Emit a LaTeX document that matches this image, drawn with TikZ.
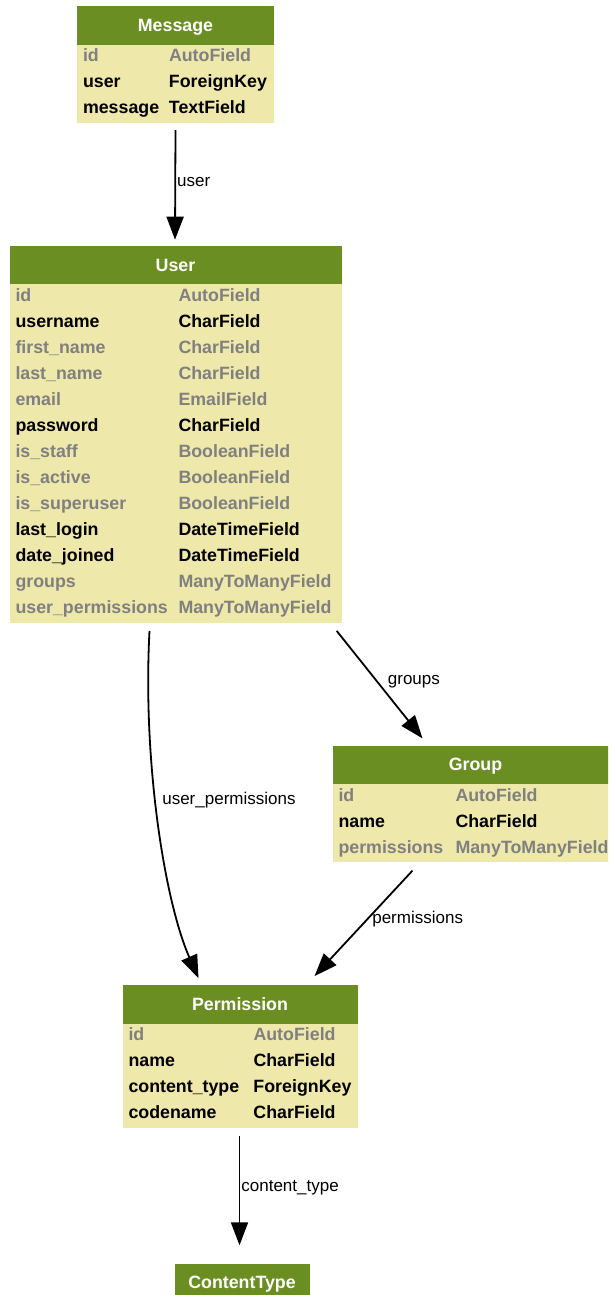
\documentclass[tikz,border=0pt]{standalone}
\usepackage{fontspec}
\setmainfont{Liberation Sans}
\usepackage{xcolor}
\usepackage{array}
\usepackage{tikz}
\usetikzlibrary{positioning,shapes.multipart,arrows.meta}

\definecolor{hdrgreen}{HTML}{6B8E23}
\definecolor{bodyyellow}{HTML}{EEE8AA}
\definecolor{fieldgrey}{HTML}{808080}

\newcommand{\rowstrut}{\rule[-9pt]{0pt}{26pt}}
\newcommand{\hdr}[1]{\rule[-13pt]{0pt}{38pt}\textcolor{white}{#1}}
\newcommand{\greyrow}[2]{\textcolor{fieldgrey}{#1} & \textcolor{fieldgrey}{#2}}
\newcommand{\fields}[3]{\begin{tabular}{@{\hspace{6pt}}>{\rowstrut}p{#1}@{}>{\rowstrut}p{#2}@{}}#3\end{tabular}}

\begin{document}
\begin{tikzpicture}[x=1pt, y=1pt, node distance=122.5pt,
    model/.style = {rectangle split, rectangle split parts=2, rectangle split part fill={hdrgreen,bodyyellow}, inner sep=0pt, font=\fontsize{17.8}{21}\selectfont\bfseries},
    title/.style = {fill=hdrgreen, text=white, minimum width=135pt, inner sep=0pt, font=\fontsize{17.8}{21}\selectfont\bfseries},
    link/.style = {line width=1.8pt, -{Triangle[length=23pt,width=17pt]}},
    edgelab/.style = {font=\fontsize{17}{20}\selectfont, inner sep=0pt, anchor=west}]
    \useasboundingbox (0,0) rectangle (608,-1295);
    \clip (0,0) rectangle (608,-1295);

    \node[model, anchor=north] (message) at (175.5,-6) {\hdr{Message}\nodepart{two}\fields{86pt}{105pt}{\greyrow{id}{AutoField}\\ user & ForeignKey\\ message & TextField}};
    \node[model] (user) [below=of message] {\hdr{User}\nodepart{two}\fields{163pt}{163pt}{\greyrow{id}{AutoField}\\ username & CharField\\ \greyrow{first\_name}{CharField}\\ \greyrow{last\_name}{CharField}\\ \greyrow{email}{EmailField}\\ password & CharField\\ \greyrow{is\_staff}{BooleanField}\\ \greyrow{is\_active}{BooleanField}\\ \greyrow{is\_superuser}{BooleanField}\\ last\_login & DateTimeField\\ date\_joined & DateTimeField\\ \greyrow{groups}{ManyToManyField}\\ \greyrow{user\_permissions}{ManyToManyField}}};
    \node[model] (group) [below=of user, xshift=300pt] {\hdr{Group}\nodepart{two}\fields{117pt}{163pt}{\greyrow{id}{AutoField}\\ name & CharField\\ \greyrow{permissions}{ManyToManyField}}};
    \node[model] (permission) [below=of group, xshift=-235.5pt] {\hdr{Permission}\nodepart{two}\fields{125pt}{104pt}{\greyrow{id}{AutoField}\\ name & CharField\\ content\_type & ForeignKey\\ codename & CharField}};
    \node[title] (contenttype) [below=135pt of permission, xshift=2pt] {\hdr{ContentType}};

    \draw[link] ([yshift=-7pt]message.south) -- ([xshift=-0.5pt,yshift=6pt]user.north) node[edgelab, pos=0.47, xshift=1pt] {user};
    \draw[link] ([xshift=-5pt,yshift=-8pt]user.south east) -- ([xshift=-53pt,yshift=7pt]group.north) node[edgelab, pos=0.47, xshift=10pt] {groups};
    \draw[link] ([xshift=-26pt,yshift=-8pt]user.south) .. controls +(-7,-130) and +(-34,77) .. ([xshift=-41.5pt,yshift=7pt]permission.north) node[edgelab, pos=0.435, xshift=6pt] {user\_permissions};
    \draw[link] ([xshift=-63pt,yshift=-8pt]group.south) -- ([xshift=74.5pt,yshift=9pt]permission.north) node[edgelab, pos=0.46, xshift=4pt] {permissions};
    \draw[link] ([xshift=-0.5pt,yshift=-8pt]permission.south) -- ([xshift=-2.5pt,yshift=18pt]contenttype.north) node[edgelab, pos=0.47, xshift=1pt] {content\_type};
\end{tikzpicture}
\end{document}
